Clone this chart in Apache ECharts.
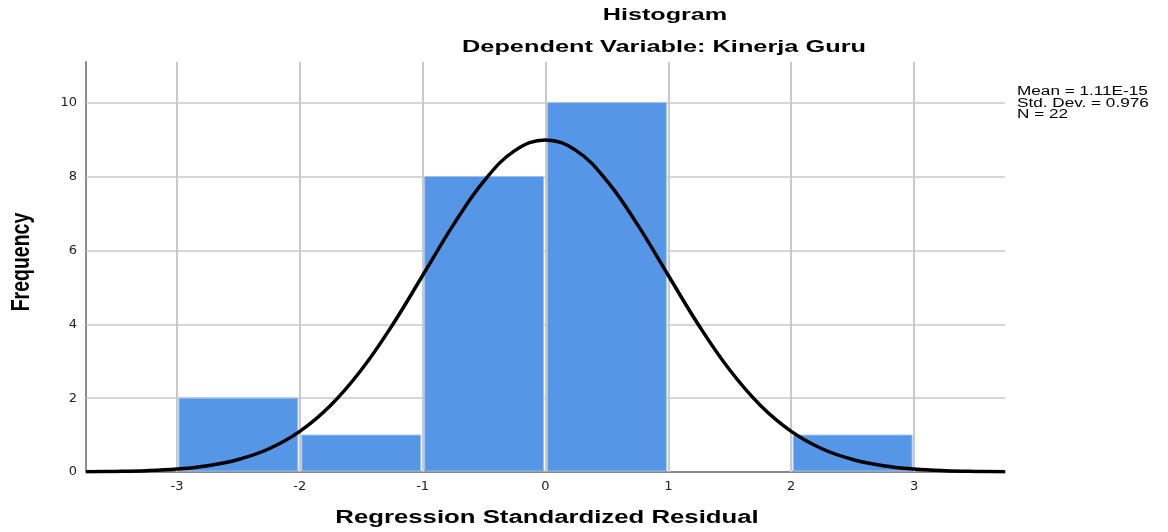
<!DOCTYPE html>
<html>
<head>
<meta charset="utf-8">
<script src="https://cdn.jsdelivr.net/npm/echarts@6/dist/echarts.min.js"></script>
<style>
html,body{margin:0;padding:0;background:#fff;}
#chart{width:1168px;height:532px;}
</style>
</head>
<body>
<div id="chart"></div>
<script>
// Histogram bins: [lower edge, upper edge, frequency]
const binLower = [-3, -2, -1, 0, 2];
const binUpper = [-2, -1, 0, 1, 3];
const binFreq  = [2, 1, 8, 10, 1];

// Normal curve points
const curveX = [-3.74, -3.5, -3.25, -3, -2.75, -2.5, -2.25, -2, -1.75, -1.5, -1.25, -1, -0.75, -0.5, -0.25, 0,
                0.25, 0.5, 0.75, 1, 1.25, 1.5, 1.75, 2, 2.25, 2.5, 2.75, 3, 3.25, 3.5, 3.74];
const curveY = [0.006, 0.015, 0.035, 0.08, 0.17, 0.34, 0.63, 1.10, 1.80, 2.76, 3.96, 5.32, 6.69, 7.88, 8.70, 8.99,
                8.70, 7.88, 6.69, 5.32, 3.96, 2.76, 1.80, 1.10, 0.63, 0.34, 0.17, 0.08, 0.035, 0.015, 0.006];

const xTicks = [-3, -2, -1, 0, 1, 2, 3];
const yTicks = [0, 2, 4, 6, 8, 10];

const titleText = 'Histogram';
const subtitleText = 'Dependent Variable: Kinerja Guru';
const statsText = ['Mean = 1.11E-15', 'Std. Dev. = 0.976', 'N = 22'];
const xName = 'Regression Standardized Residual';
const yName = 'Frequency';

const chart = echarts.init(document.getElementById('chart'), null, {renderer: 'canvas'});

const binData = binLower.map((l, i) => [l, binUpper[i], binFreq[i]]);
const curveData = curveX.map((x, i) => [x, curveY[i]]);

const gridColor = '#c9c9c9';

const option = {
  animation: false,
  backgroundColor: '#fff',
  grid: {left: 86, right: 163, top: 62, bottom: 60, containLabel: false},
  xAxis: {
    type: 'value', min: -3.74, max: 3.74,
    axisLine: {show: true, onZero: false, lineStyle: {color: '#8a8a8a', width: 2}},
    axisTick: {show: false},
    splitLine: {show: false},
    axisLabel: {customValues: xTicks, color: '#222', fontFamily: 'DejaVu Sans, sans-serif', fontSize: 13, margin: 8}
  },
  yAxis: {
    type: 'value', min: 0, max: 11.1,
    axisLine: {show: true, onZero: false, lineStyle: {color: '#8a8a8a', width: 2}},
    axisTick: {show: false},
    splitLine: {show: false},
    axisLabel: {customValues: yTicks, color: '#222', fontFamily: 'DejaVu Sans, sans-serif', fontSize: 13, margin: 9}
  },
  series: [
    {
      type: 'line', data: [], silent: true, z: 1,
      markLine: {
        silent: true, symbol: 'none', label: {show: false}, z: 1,
        lineStyle: {color: gridColor, type: 'solid', width: 2},
        data: xTicks.map(v => ({xAxis: v})).concat(
              yTicks.filter(v => v > 0).map(v => ({yAxis: v, lineStyle: {color: gridColor, width: 1.5, type: 'solid'}})))
      }
    },
    {
      type: 'custom', z: 6,
      data: binData,
      encode: {x: [0, 1], y: 2},
      renderItem: function (params, api) {
        const p0 = api.coord([api.value(0), api.value(2)]);
        const p1 = api.coord([api.value(1), 0]);
        const inset = 2;
        return {
          type: 'rect',
          shape: {x: p0[0] + inset, y: p0[1], width: p1[0] - p0[0] - 2 * inset, height: p1[1] - p0[1] - 1},
          style: {fill: '#5596E6', stroke: '#9DC1F0', lineWidth: 1}
        };
      }
    },
    {
      type: 'line', z: 7, smooth: 0.4, showSymbol: false, silent: true,
      data: curveData,
      lineStyle: {color: '#000', width: 3.5}
    }
  ],
  graphic: [
    {type: 'text', x: 665, y: 15, scaleX: 1.48, style: {text: titleText, textAlign: 'center', textVerticalAlign: 'middle',
      font: 'bold 17px "Liberation Sans", Arial, sans-serif', fill: '#000'}},
    {type: 'text', x: 664, y: 47, scaleX: 1.49, style: {text: subtitleText, textAlign: 'center', textVerticalAlign: 'middle',
      font: 'bold 17px "Liberation Sans", Arial, sans-serif', fill: '#000'}},
    {type: 'text', x: 1017, y: 86, scaleX: 1.43, style: {text: statsText.join('\n'), lineHeight: 11.5,
      font: '12px "Liberation Sans", Arial, sans-serif', fill: '#000'}},
    {type: 'text', x: 547, y: 518, scaleX: 1.43, style: {text: xName, textAlign: 'center', textVerticalAlign: 'middle',
      font: 'bold 18px "Liberation Sans", Arial, sans-serif', fill: '#000'}},
    {type: 'text', x: 22, y: 262, rotation: Math.PI / 2, scaleY: 1.35, style: {text: yName, textAlign: 'center', textVerticalAlign: 'middle',
      font: 'bold 19.5px "Liberation Sans", Arial, sans-serif', fill: '#000'}}
  ]
};
chart.setOption(option);
</script>
</body>
</html>
